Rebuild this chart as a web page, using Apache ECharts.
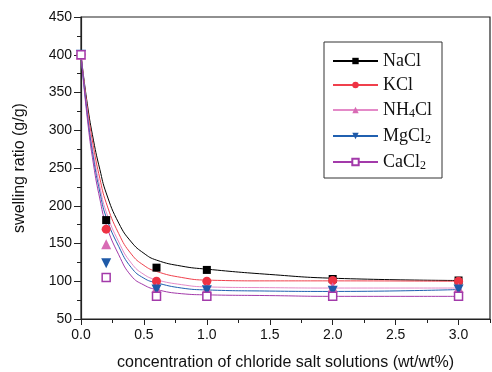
<!DOCTYPE html>
<html>
<head>
<meta charset="utf-8">
<script src="https://cdn.jsdelivr.net/npm/echarts@6/dist/echarts.min.js"></script>
<style>
  html, body { margin: 0; padding: 0; background: #fff; }
  #chart { width: 492px; height: 372px; }
</style>
</head>
<body>
<div id="chart"></div>
<script>
// measured points
var pointX = [0, 0.2, 0.6, 1.0, 2.0, 3.0];
var naclPts = [400, 181, 118, 115, 103, 101];
var kclPts = [400, 169, 100, 100, 101, 100];
var nh4clPts = [400, 149, 91, 90, 92, 91];
var mgcl2Pts = [400, 124, 89, 88, 87.5, 89];
var cacl2Pts = [400, 105, 80, 80, 80, 80];

// fitted curves
var curveX = [0, 0.05, 0.1, 0.15, 0.2, 0.3, 0.4, 0.5, 0.6, 0.8, 1.0, 1.5, 2.0, 3.0];
var naclCurve = [400, 335, 286, 248, 217, 177, 152, 137, 128, 120, 116, 109, 104, 101];
var kclCurve = [400, 330, 277, 236, 204, 163, 136, 121, 113, 105, 101.5, 100.5, 100.5, 100];
var nh4clCurve = [400, 325, 268, 225, 192, 152, 124, 109, 102, 95.5, 92.5, 91.5, 91, 91];
var mgcl2Curve = [400, 321, 262, 218, 185, 146, 118, 104, 98, 91, 88.5, 87, 86.5, 89];
var cacl2Curve = [400, 316, 254, 209, 175, 135, 107, 95, 89, 83.5, 82, 81, 80, 80];

var names = ['NaCl', 'KCl', 'NH4Cl', 'MgCl2', 'CaCl2'];
var legendLabels = ['{a|NaCl}', '{a|KCl}', '{a|NH}{s|4}{a|Cl}', '{a|MgCl}{s|2}', '{a|CaCl}{s|2}'];

var myChart = echarts.init(document.getElementById('chart'));

function pairs(xs, ys) {
  var out = [];
  for (var i = 0; i < xs.length; i++) out.push([xs[i], ys[i]]);
  return out;
}

var styles = [
  { line: '#000000', fill: '#000000', border: '#000000', symbol: 'rect', size: 8 },
  { line: '#f0404c', fill: '#ee3344', border: '#ee3344', symbol: 'circle', size: 9 },
  { line: '#e48ac8', fill: '#d86bb4', border: '#d86bb4', symbol: 'triangle', size: 10 },
  { line: '#2060b0', fill: '#1f5aa8', border: '#1f5aa8', symbol: 'path://M0,0 L10,0 L5,9 Z', size: 10 },
  { line: '#a33aaa', fill: '#ffffff', border: '#a33aaa', symbol: 'rect', size: 8 }
];
var curves = [naclCurve, kclCurve, nh4clCurve, mgcl2Curve, cacl2Curve];
var points = [naclPts, kclPts, nh4clPts, mgcl2Pts, cacl2Pts];

var series = [];
names.forEach(function (name, i) {
  var s = styles[i];
  series.push({
    name: name,
    type: 'line',
    smooth: 0.5,
    showSymbol: false,
    symbol: s.symbol,
    symbolSize: s.size,
    lineStyle: { color: s.line, width: 1 },
    itemStyle: { color: s.fill, borderColor: s.border, borderWidth: i === 4 ? 1.5 : 0 },
    data: pairs(curveX, curves[i]),
    z: 2
  });
});
names.forEach(function (name, i) {
  var s = styles[i];
  series.push({
    name: name,
    type: 'scatter',
    symbol: s.symbol,
    symbolSize: s.size,
    itemStyle: { color: s.fill, borderColor: s.border, borderWidth: i === 4 ? 1.5 : 0, opacity: 1 },
    data: pairs(pointX, points[i]),
    z: 3
  });
});

var gridBox = { left: 81, right: 2, top: 17, bottom: 53, containLabel: false, outerBoundsMode: 'none' };

var option = {
  animation: false,
  backgroundColor: '#ffffff',
  grid: [
    Object.assign({ show: true, borderColor: '#222', borderWidth: 1.2, backgroundColor: 'transparent' }, gridBox),
    Object.assign({ show: false }, gridBox)
  ],
  legend: {
    data: names,
    orient: 'vertical',
    left: 324,
    top: 42,
    itemWidth: 45,
    itemHeight: 8,
    itemGap: 6,
    padding: [10, 10, 6, 8],
    borderColor: '#333',
    borderWidth: 1,
    backgroundColor: '#fff',
    formatter: function (name) {
      return legendLabels[names.indexOf(name)];
    },
    textStyle: {
      rich: {
        a: { fontFamily: 'Liberation Serif', fontSize: 18, color: '#111', lineHeight: 20 },
        s: { fontFamily: 'Liberation Serif', fontSize: 12, color: '#111', lineHeight: 12, padding: [8, 0, 0, 0] }
      }
    }
  },
  xAxis: [{
    type: 'value',
    gridIndex: 0,
    min: 0,
    max: 3.25,
    interval: 0.5,
    name: 'concentration of chloride salt solutions (wt/wt%)',
    nameLocation: 'middle',
    nameGap: 36,
    nameTextStyle: { fontFamily: 'Liberation Sans', fontSize: 16, color: '#111' },
    axisLine: { onZero: false, lineStyle: { color: '#222', width: 1.2 } },
    axisTick: { inside: false, length: 6, lineStyle: { color: '#222' } },
    splitLine: { show: false },
    axisLabel: {
      fontFamily: 'Liberation Sans', fontSize: 14, color: '#111', margin: 9,
      showMaxLabel: false,
      formatter: function (v) { return v.toFixed(1); }
    }
  }, {
    // minor ticks
    type: 'value',
    gridIndex: 1,
    min: 0,
    max: 3.25,
    interval: 0.25,
    axisLine: { show: false, onZero: false },
    axisTick: { inside: false, length: 4, lineStyle: { color: '#222' } },
    axisLabel: { show: false },
    splitLine: { show: false }
  }],
  yAxis: [{
    type: 'value',
    gridIndex: 0,
    min: 50,
    max: 450,
    interval: 50,
    name: 'swelling ratio (g/g)',
    nameLocation: 'middle',
    nameGap: 53,
    nameTextStyle: { fontFamily: 'Liberation Sans', fontSize: 16, color: '#111' },
    axisLine: { show: true, lineStyle: { color: '#222', width: 1.2 } },
    axisTick: { show: true, inside: false, length: 7, lineStyle: { color: '#222' } },
    splitLine: { show: false },
    axisLabel: { fontFamily: 'Liberation Sans', fontSize: 14, color: '#111', margin: 9 }
  }, {
    // minor ticks
    type: 'value',
    gridIndex: 1,
    min: 50,
    max: 450,
    interval: 25,
    axisLine: { show: false },
    axisTick: { show: true, inside: false, length: 4, lineStyle: { color: '#222' } },
    axisLabel: { show: false },
    splitLine: { show: false }
  }],
  series: series
};
option && myChart.setOption(option);
</script>
</body>
</html>
